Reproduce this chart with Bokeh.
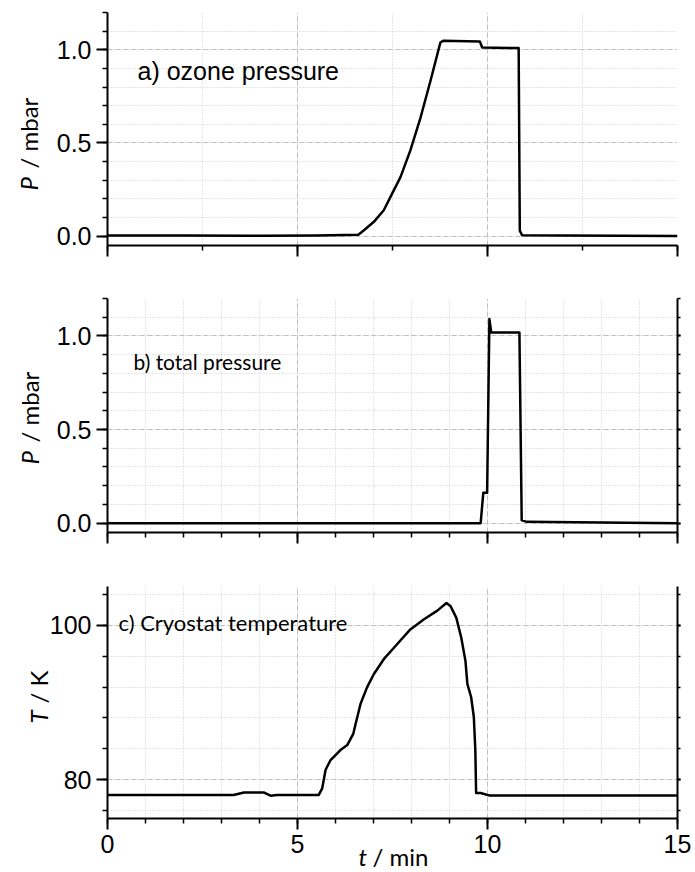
import numpy as np
from bokeh.plotting import figure
from bokeh.models import (LinearAxis, Range1d, SingleIntervalTicker, Label,
                          PrintfTickFormatter, GridBox)
from bokeh.embed import file_html
from bokeh.resources import INLINE

# ---------------- data ----------------
# a) ozone pressure (mbar) vs time (min)
t_ozone = [0.0, 2.0, 3.7, 4.1, 5.5, 6.6, 6.75, 7.01, 7.27, 7.49, 7.71, 7.97, 8.24, 8.5,
           8.76, 8.83, 9.80, 9.86, 10.82, 10.85, 10.91, 12.0, 15.0]
p_ozone = [0.004, 0.004, 0.002, 0.002, 0.004, 0.008, 0.032, 0.077, 0.139, 0.228, 0.317,
           0.46, 0.638, 0.834, 1.039, 1.048, 1.044, 1.012, 1.009, 0.03, 0.005, 0.003, 0.001]

# b) total pressure (mbar)
t_total = [0.0, 9.82, 9.89, 9.99, 10.05, 10.10, 10.84, 10.90, 11.04, 13.0, 15.0]
p_total = [0.0, 0.0, 0.163, 0.163, 1.09, 1.018, 1.018, 0.015, 0.007, 0.004, 0.0]

# c) cryostat temperature (K)
t_temp = [0.0, 3.32, 3.59, 4.11, 4.29, 4.46, 5.56, 5.65, 5.74, 5.87, 6.04, 6.13, 6.31,
          6.47, 6.53, 6.66, 6.83, 7.01, 7.27, 7.62, 7.97, 8.32, 8.68, 8.92, 9.03, 9.18,
          9.31, 9.42, 9.47, 9.57, 9.64, 9.68, 9.70, 9.82, 10.04, 15.0]
T_temp = [78.05, 78.05, 78.37, 78.37, 77.95, 78.05, 78.05, 78.9, 81.3, 82.56, 83.4, 83.85,
          84.49, 85.98, 87.26, 89.83, 91.96, 93.68, 95.6, 97.53, 99.45, 100.73, 101.88,
          102.86, 102.44, 100.94, 98.37, 95.38, 92.4, 90.68, 88.12, 83.85, 78.29, 78.29,
          77.99, 77.99]

x_ticks_interval = 5
panel_texts = ["a) ozone pressure", "b) total pressure", "c) Cryostat temperature"]

# ---------------- styling helpers ----------------
MAJ_GRID = "#c0c0c0"
MIN_GRID = "#cccccc"
PAGE_W, PAGE_H = 693, 872


def style_axis(ax, major_out=11, minor_out=5, labels=True, standoff=3):
    ax.axis_line_width = 2
    ax.axis_line_color = "black"
    ax.major_tick_line_width = 2
    ax.minor_tick_line_width = 1.5
    ax.major_tick_line_color = "black"
    ax.minor_tick_line_color = "black"
    ax.major_tick_in = 0
    ax.minor_tick_in = 0
    ax.major_tick_out = major_out
    ax.minor_tick_out = minor_out
    ax.major_label_text_font = "Liberation Sans"
    ax.major_label_standoff = standoff
    if labels:
        ax.major_label_text_font_size = "25px"
        ax.major_label_text_color = "black"
    else:
        # tick labels not shown: not painted at all
        ax.major_label_text_font_size = "1px"
        ax.major_label_text_color = None


def make_fig(yr, y_interval, y_minor, x_minor, frame_h, top, bottom, right_axis,
             x_labels, y_fmt):
    p = figure(frame_width=570, frame_height=frame_h,
               x_range=Range1d(0, 15), y_range=Range1d(*yr),
               output_backend="svg", toolbar_location=None,
               min_border_left=107, min_border_right=16,
               min_border_top=top, min_border_bottom=bottom)
    p.outline_line_color = None
    p.background_fill_color = "white"
    p.border_fill_color = "white"

    xt = SingleIntervalTicker(interval=x_ticks_interval, num_minor_ticks=x_minor)
    yt = SingleIntervalTicker(interval=y_interval, num_minor_ticks=y_minor)
    p.xaxis.ticker = xt
    p.yaxis.ticker = yt
    p.xgrid.ticker = xt
    p.ygrid.ticker = yt
    style_axis(p.xaxis[0], labels=x_labels, standoff=5)
    style_axis(p.yaxis[0], labels=True, standoff=5)
    p.yaxis.formatter = PrintfTickFormatter(format=y_fmt)

    for g in (p.xgrid[0], p.ygrid[0]):
        g.grid_line_color = MAJ_GRID
        g.grid_line_dash = "5 3"
        g.grid_line_width = 1
        g.minor_grid_line_color = MIN_GRID
        g.minor_grid_line_dash = "1 2"
        g.minor_grid_line_width = 1

    if right_axis:
        ra = LinearAxis(ticker=SingleIntervalTicker(interval=y_interval, num_minor_ticks=y_minor))
        style_axis(ra, major_out=3, minor_out=3, labels=False)
        p.add_layout(ra, "right")
    return p


# ---------------- panel a ----------------
pa = make_fig((-0.05, 1.2), 0.5, 5, 2, 233, 12, 30, False, False, "%.1f")
pa.line(t_ozone, p_ozone, line_color="black", line_width=2.5, line_join="round")
pa.add_layout(Label(x=0.79, y=0.888, text=panel_texts[0], text_font="Liberation Sans",
                    text_font_size="25px", text_baseline="alphabetic", text_color="black"))

# ---------------- panel b ----------------
pb = make_fig((-0.05, 1.2), 0.5, 5, 5, 234, 23, 30, True, False, "%.1f")
pb.line(t_total, p_total, line_color="black", line_width=2.5, line_join="round")
pb.add_layout(Label(x=0.684, y=0.862, text=panel_texts[1], text_font="Lato",
                    text_font_size="21px", text_baseline="alphabetic", text_color="black"))

# ---------------- panel c ----------------
pc = make_fig((75, 105), 20, 5, 5, 232, 24, 54, True, True, "%d")
pc.line(t_temp, T_temp, line_color="black", line_width=2.5, line_join="round")
pc.add_layout(Label(x=0.29, y=100.29, text=panel_texts[2], text_font="Lato",
                    text_font_size="22px", text_baseline="alphabetic", text_color="black"))

# ---------------- transparent overlay for axis titles (page-pixel coordinates) ----------------
ov = figure(width=PAGE_W, height=PAGE_H, x_range=Range1d(0, PAGE_W), y_range=Range1d(0, PAGE_H),
            output_backend="svg", toolbar_location=None, min_border=0,
            x_axis_location=None, y_axis_location=None)
ov.outline_line_color = None
ov.background_fill_alpha = 0
ov.border_fill_alpha = 0
ov.xgrid.visible = False
ov.ygrid.visible = False


def ylabel(x_base, y_sym, y_unit, sym, unit, size="24px"):
    # rotated title (reads bottom to top): italic symbol starts at y_sym, unit starts at y_unit
    ov.add_layout(Label(x=x_base, y=PAGE_H - y_sym, text=sym, angle=np.pi / 2,
                        text_align="left", text_baseline="alphabetic", text_font="Lato",
                        text_font_style="italic", text_font_size=size, text_color="black"))
    ov.add_layout(Label(x=x_base, y=PAGE_H - y_unit, text=unit, angle=np.pi / 2,
                        text_align="left", text_baseline="alphabetic", text_font="Lato",
                        text_font_size=size, text_color="black"))


ylabel(28, 190, 168, "P", "/ mbar")
ylabel(29, 464, 442, "P", "/ mbar")
ylabel(38, 723, 703, "T", "/ K")
ov.add_layout(Label(x=358, y=PAGE_H - 856, text="t", text_font="Lato", text_font_style="italic",
                    text_font_size="24px", text_align="left", text_baseline="alphabetic",
                    text_color="black"))
ov.add_layout(Label(x=372, y=PAGE_H - 856, text="/ min", text_font="Lato",
                    text_font_size="24px", text_align="left", text_baseline="alphabetic",
                    text_color="black"))

# panels in the middle cells; the overlay spans extra empty outer rows/cols so that its
# frame is not aligned with the panel frames
layout = GridBox(children=[(pa, 1, 1), (pb, 2, 1), (pc, 3, 1), (ov, 0, 0, 5, 3)], spacing=0)
open("out.html", "w").write(file_html(layout, INLINE))
